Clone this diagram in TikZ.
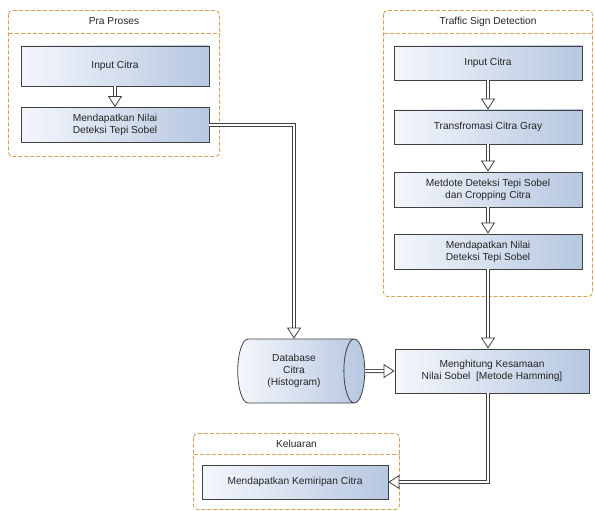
\documentclass[tikz,border=0pt]{standalone}
\usepackage{fontspec}
\setmainfont{Liberation Sans}
\usetikzlibrary{arrows.meta, shapes.geometric}
\definecolor{boxlight}{HTML}{F4F7FC}
\definecolor{boxdark}{HTML}{B6C7E0}
\definecolor{grupc}{HTML}{D9A055}
\definecolor{garis}{HTML}{404040}
\tikzset{
  kotak/.style={draw=garis, line width=0.8pt, left color=boxlight, right color=boxdark,
    minimum width=188pt, minimum height=35pt, align=center, inner sep=2pt, text=black!85},
  grup/.style={draw=grupc, dash pattern=on 4pt off 2pt, rounded corners=4pt, line width=0.8pt, fill=white},
  judul/.style={text=black!85, inner sep=1pt},
  alir/.style={draw=garis, double=white, double distance=2.4pt, line width=0.8pt,
    -{Triangle[open, length=11pt, width=14pt]}},
}
\begin{document}
\begin{tikzpicture}[x=1pt, y=-1pt, font=\fontsize{10.2}{12.2}\selectfont]
\useasboundingbox (0,0) rectangle (595,511);
% kelompok
\draw[grup] (8.5,10.5) rectangle (219.5,156.5);
\draw[grup] (8.5,33.5) -- (219.5,33.5);
\node[judul] (tpra) at (114,21.5) {Pra Proses};
\draw[grup] (383.5,10.5) rectangle (592.5,296.5);
\draw[grup] (383.5,33.5) -- (592.5,33.5);
\node[judul] (ttsd) at (488,21.5) {Traffic Sign Detection};
\draw[grup] (193.5,433.5) rectangle (399.5,509.5);
\draw[grup] (193.5,454.5) -- (399.5,454.5);
\node[judul] (tkel) at (296.5,443.5) {Keluaran};
% pra proses
\node[kotak, minimum height=40pt] (pi) at (115,66) {Input Citra};
\node[kotak] (pm) at (115,125) {Mendapatkan Nilai\\Deteksi Tepi Sobel};
\draw[alir] (pi) -- (pm);
% traffic sign detection
\node[kotak, minimum height=34pt] (r1) at (488,63) {Input Citra};
\node[kotak, minimum height=34pt] (r2) at (488,127) {Transfromasi Citra Gray};
\node[kotak] (r3) at (488,189.5) {Metdote Deteksi Tepi Sobel\\dan Cropping Citra};
\node[kotak] (r4) at (488,251.5) {Mendapatkan Nilai\\Deteksi Tepi Sobel};
\foreach \a/\b in {r1/r2, r2/r3, r3/r4}{
  \draw[alir] (\a) -- (\b);
}
% database dan perhitungan
\node[kotak, cylinder, shape aspect=0.55, minimum width=64pt, minimum height=127pt] (db) at (294,371) {Database\\Citra\\(Histogram)};
\node[kotak, minimum width=194pt, minimum height=44pt] (mh) at (492,371) {Menghitung Kesamaan\\Nilai Sobel~ [Metode Hamming]};
\node[kotak, minimum width=186pt, minimum height=34pt] (kb) at (295,482) {Mendapatkan Kemiripan Citra};
\coordinate (belok) at (db.north |- pm.east);
\draw[alir] (pm.east) -- (belok) -- (db.north);
\draw[alir] (r4.south) -- (r4.south |- mh.north);
\draw[alir] (db.east) -- (mh.west);
\draw[alir] (r4.south |- mh.south) |- (kb.east);
\end{tikzpicture}
\end{document}
